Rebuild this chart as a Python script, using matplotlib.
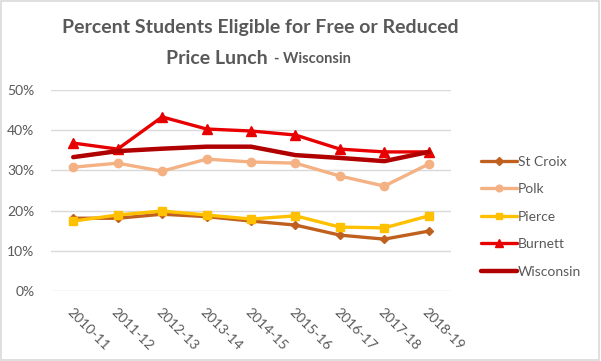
import matplotlib
matplotlib.use("Agg")
import matplotlib.pyplot as plt
import numpy as np
from matplotlib.patches import Rectangle

# data
years = ['2010-11', '2011-12', '2012-13', '2013-14', '2014-15',
         '2015-16', '2016-17', '2017-18', '2018-19']
st_croix = [18.1, 18.1, 19.1, 18.5, 17.4, 16.4, 13.9, 12.9, 14.9]
polk = [30.8, 31.8, 29.8, 32.8, 32.1, 31.8, 28.6, 26.1, 31.6]
pierce = [17.4, 18.9, 19.9, 18.9, 17.9, 18.7, 15.9, 15.7, 18.7]
burnett = [36.8, 35.3, 43.3, 40.3, 39.8, 38.8, 35.3, 34.6, 34.6]
wisconsin = [33.3, 34.8, 35.4, 35.9, 35.9, 33.8, 33.1, 32.3, 34.6]

plt.rcParams['font.family'] = ['Lato', 'DejaVu Sans']
gray = '#595959'

fig = plt.figure(figsize=(6.01, 3.61), dpi=100)
fig.patches.append(Rectangle((0.002, 0.003), 0.995, 0.993, transform=fig.transFigure,
                             fill=False, edgecolor='#d9d9d9', linewidth=1.2))
ax = fig.add_axes([51/601, 1-291/361, 400/601, 201/361])

x = np.arange(len(years))
series = [
    ('St Croix', st_croix, '#c0601f', 'D', 4.5),
    ('Polk', polk, '#f4b183', 'o', 6),
    ('Pierce', pierce, '#ffc000', 's', 6),
    ('Burnett', burnett, '#e80000', '^', 7),
    ('Wisconsin', wisconsin, '#b00000', None, 0),
]
for name, vals, col, mk, ms in series:
    lw = 3.2 if name == 'Wisconsin' else 2.4
    ax.plot(x, vals, color=col, linewidth=lw, marker=mk, markersize=ms,
            markeredgecolor=col, label=name, solid_capstyle='round')

ax.set_xlim(-0.5, len(years) - 0.5)
ax.set_ylim(0, 50)
ax.set_yticks(range(0, 51, 10))
ax.set_yticklabels([f'{v}%' for v in range(0, 51, 10)], color=gray, fontsize=10)
ax.yaxis.grid(True, color='#d9d9d9', linewidth=1)
ax.set_axisbelow(True)
ax.tick_params(axis='y', length=0, pad=12)
ax.set_xticks(x)
ax.set_xticklabels(years, rotation=-45, ha='left', va='top', rotation_mode='anchor',
                   color=gray, fontsize=10)
ax.tick_params(axis='x', length=0, pad=11)
for s in ax.spines.values():
    s.set_visible(False)

leg = fig.legend(loc='upper left', bbox_to_anchor=(475/601, 1-150/361), frameon=False,
                 fontsize=10, labelcolor=gray, handlelength=2.6, handletextpad=0.1,
                 labelspacing=1.12, borderaxespad=0, markerscale=0.8)

fig.text(260/601, 1-28/361, 'Percent Students Eligible for Free or Reduced',
         ha='center', va='center', fontsize=14, fontweight='bold', color=gray)
fig.text(268/601, 1-58/361, 'Price Lunch', ha='right', va='center',
         fontsize=14, fontweight='bold', color=gray)
fig.text(274/601, 1-59/361, '- Wisconsin', ha='left', va='center',
         fontsize=10.5, fontweight='bold', color=gray)

fig.savefig('out.png', dpi=100)
